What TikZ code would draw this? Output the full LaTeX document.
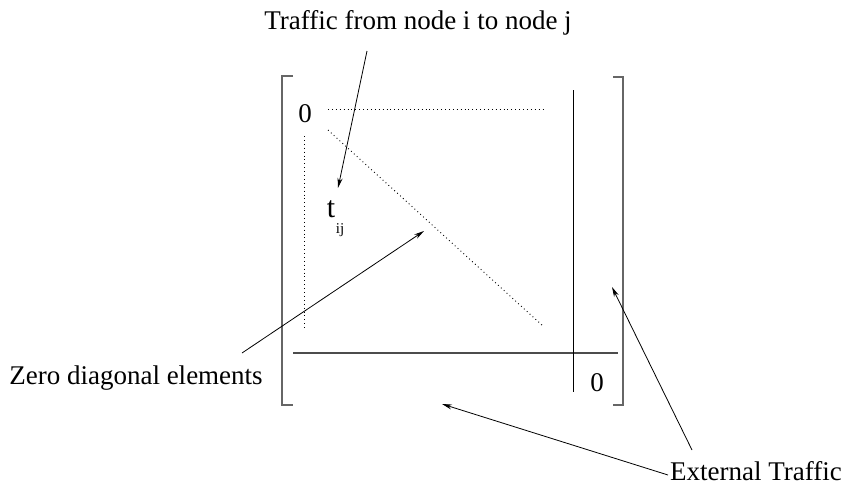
\documentclass[tikz,border=0pt]{standalone}
\usepackage{fontspec}
\setmainfont{Liberation Serif}
\usetikzlibrary{arrows.meta}
\begin{document}
\begin{tikzpicture}[x=1pt,y=-1pt,
  lbl/.style={inner sep=0pt,font=\fontsize{27}{30}\selectfont},
  sub/.style={inner sep=0pt,font=\fontsize{15}{17}\selectfont},
  brk/.style={draw=black!60,line width=1.4pt},
  rule/.style={draw=black,line width=0.9pt},
  dots/.style={draw=black,line width=0.9pt,dash pattern=on 0.9pt off 3pt},
  arr/.style={draw=black,line width=0.8pt,-{Stealth[length=10pt,width=5pt]}}]
\useasboundingbox (0,0) rectangle (860,490);
% brackets
\draw[brk] (293,76) -- (282,76) -- (282,405) -- (293,405);
\draw[brk] (613,77) -- (623,77) -- (623,405) -- (613,405);
% partition lines
\draw[draw=black!70,line width=1.2pt] (293,353) -- (618,353);
\draw[rule] (573,90) -- (573,392);
% dotted lines
\draw[dots] (328,109) -- (545,109);
\draw[dots] (328,130) -- (543,326);
\draw[dots] (304,136) -- (304,330);
% entries
\node[lbl] (z1) at (305,114) {0};
\node[lbl] (z2) at (597,383) {0};
\node[lbl,font=\fontsize{30}{32}\selectfont] (t) at (331,209) {t};
\node[sub] (ij) at (340,230) {ij};
% labels
\node[lbl] (title) at (418,23) {Traffic from node i to node j};
\node[lbl] (zde) at (136,378) {Zero diagonal elements};
\node[lbl] (ext) at (756,471) {External Traffic};
% arrow ends
\coordinate (a1s) at (367,51);
\coordinate (a1e) at (338,188);
\coordinate (a2s) at (242,353);
\coordinate (a2e) at (424,231);
\coordinate (a3s) at (692,450);
\coordinate (a3e) at (612,287);
\coordinate (a4s) at (668,475);
\coordinate (a4e) at (442,404);
\draw[arr] (a1s) -- (a1e);
\draw[arr] (a2s) -- (a2e);
\draw[arr] (a3s) -- (a3e);
\draw[arr] (a4s) -- (a4e);
\end{tikzpicture}
\end{document}
